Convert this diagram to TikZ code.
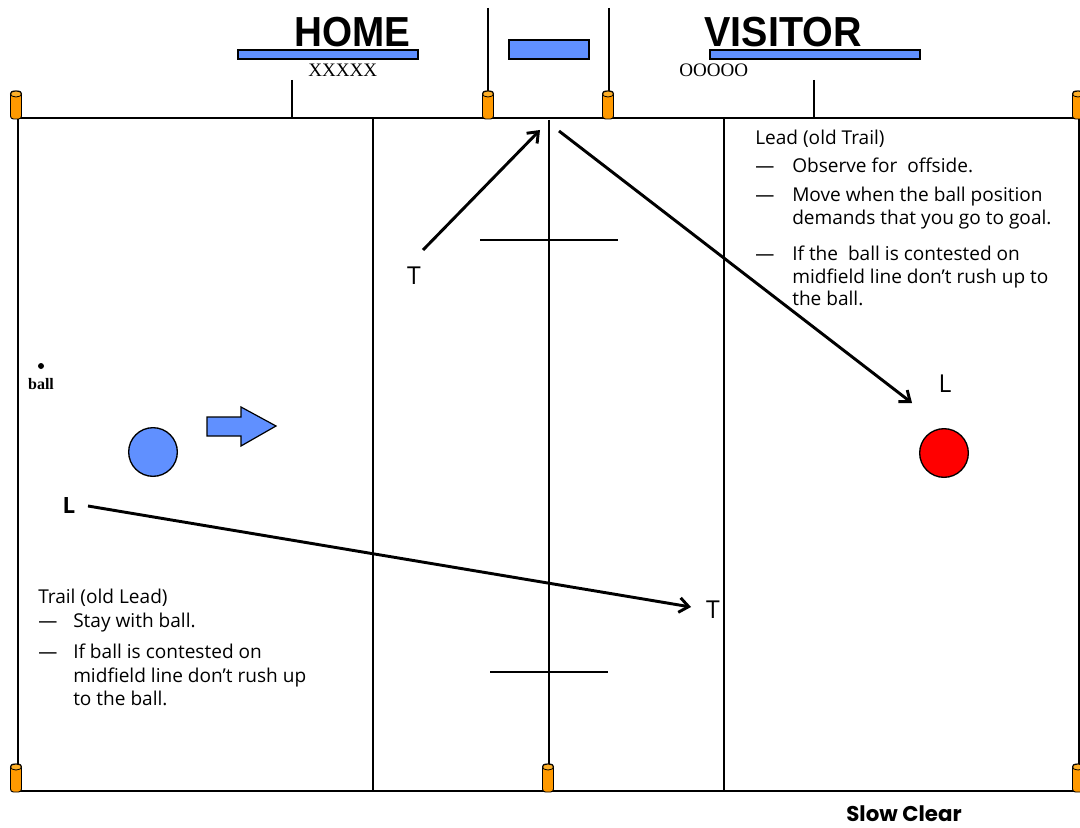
\documentclass[tikz,border=0pt]{standalone}
\usepackage{fontspec}
\setmainfont{Open Sans}
\newfontfamily\arialfont{Liberation Sans}
\newfontfamily\timesfont{Liberation Serif}
\newfontfamily\clearfont{Poppins}
\usetikzlibrary{arrows.meta}
\definecolor{teamblue}{RGB}{96,144,255}
\definecolor{pylonorange}{RGB}{255,153,0}
\definecolor{pylontop}{RGB}{255,176,40}
\tikzset{
  fieldline/.style={line width=1.1pt, draw=black},
  thinline/.style={line width=0.9pt, draw=black},
  bar/.style={fill=teamblue, draw=black, line width=1pt},
  move/.style={line width=2.2pt, -{Straight Barb[length=7pt,width=11pt]}},
  body/.style={anchor=base west, inner sep=0pt, font=\fontsize{14.3}{16}\selectfont},
  bigletter/.style={inner sep=0pt, font=\fontsize{18.5}{20}\selectfont},
  teamname/.style={anchor=base, inner sep=0pt, font=\arialfont\bfseries\fontsize{31.5}{32}\selectfont},
  roster/.style={anchor=base west, inner sep=0pt, font=\timesfont\fontsize{14.3}{15}\selectfont},
  player/.style={circle, draw=black, line width=1pt, minimum size=36.5pt, inner sep=0pt},
  pylon/.pic={
    \draw[fill=pylonorange, line width=0.7pt, rounded corners=2.2] (-5.5,0) rectangle (5.5,-28);
    \draw[fill=pylontop, line width=0.6pt] (0,-25) ellipse [x radius=5.5, y radius=3];
  }
}
\begin{document}
\begin{tikzpicture}[x=0.75pt,y=-0.75pt]
\useasboundingbox[fill=white] (0,0) rectangle (1080,827);

% field
\draw[fieldline] (18,118) -- (1080,118);
\draw[fieldline] (18,791) -- (1080,791);
\draw[fieldline] (18,118) -- (18,791);
\draw[fieldline] (1079,118) -- (1079,791);
\draw[thinline] (373,118) -- (373,791);
\draw[thinline] (549,120) -- (549,791);
\draw[thinline] (724,118) -- (724,791);
% ticks
\draw[thinline] (292,80) -- (292,118);
\draw[thinline] (814,80) -- (814,118);
\draw[thinline] (488,8) -- (488,95);
\draw[thinline] (609,8) -- (609,95);
% crosshairs
\draw[thinline] (480,240) -- (618,240);
\draw[thinline] (490,672) -- (608,672);

% pylons
\pic at (16,119) {pylon};
\pic at (488,119) {pylon};
\pic at (608,119) {pylon};
\pic at (1078,119) {pylon};
\pic at (16,792) {pylon};
\pic at (548,792) {pylon};
\pic at (1078,792) {pylon};

% header
\node[teamname] (home) at (352.5,47) {\scalebox{0.92}[1]{HOME}};
\node[teamname] (visitor) at (783,47) {\scalebox{0.94}[1]{VISITOR}};
\draw[bar] (238,50) rectangle (418,59);
\draw[bar] (509,40) rectangle (589,59);
\draw[bar] (710,50) rectangle (920,59);
\node[roster] (xs) at (308,77) {XXXXX};
\node[roster] (os) at (679,77) {OOOOO};

% ball
\fill (41,366) circle [radius=3];
\node[anchor=base, inner sep=0pt, font=\timesfont\bfseries\fontsize{12}{13}\selectfont] (balllab) at (41,389) {ball};

% players
\node[player, fill=teamblue] (blue) at (153,452) {};
\node[player, fill=red] (red) at (944,453) {};
\draw[fill=teamblue, draw=black, line width=0.9pt] (207,417) -- (241,417) -- (241,407) -- (276,426) -- (241,446) -- (241,436) -- (207,436) -- cycle;

% labels
\node[bigletter] (t1) at (414,276) {T};
\node[bigletter] (l2) at (945,384) {L};
\node[bigletter] (t2) at (713,610) {T};
\node[inner sep=0pt, font=\bfseries\fontsize{16.8}{18}\selectfont] (l1) at (69,505) {L};

% movement arrows
\coordinate (t1start) at (423,250);
\coordinate (t1end) at (540,130);
\coordinate (l2start) at (559,131);
\coordinate (l2end) at (912,403);
\coordinate (l1start) at (88,506);
\coordinate (l1end) at (691,607);
\draw[move] (t1start) -- (t1end);
\draw[move] (l2start) -- (l2end);
\draw[move] (l1start) -- (l1end);

% Lead text
\node[body] (leadhead) at (755,145) {Lead (old Trail)};
\node[body] (ld1) at (755,173) {—};
\node[body] (lt1) at (792,173) {Observe for~ offside.};
\node[body] (ld2) at (755,202) {—};
\node[body] (lt2a) at (792,202) {Move when the ball position};
\node[body] (lt2b) at (792,224) {demands that you go to goal.};
\node[body] (ld3) at (755,260) {—};
\node[body] (lt3a) at (792,260) {If the~ ball is contested on};
\node[body] (lt3b) at (792,283) {midfield line don’t rush up to};
\node[body] (lt3c) at (792,305) {the ball.};

% Trail text
\node[body] (trailhead) at (38,603) {Trail (old Lead)};
\node[body] (td1) at (38,627) {—};
\node[body] (tt1) at (73,627) {Stay with ball.};
\node[body] (td2) at (38,658) {—};
\node[body] (tt2a) at (73,658) {If ball is contested on};
\node[body] (tt2b) at (73,682) {midfield line don’t rush up};
\node[body] (tt2c) at (73,705) {to the ball.};

% caption
\node[anchor=base, inner sep=0pt, text depth=0pt, font=\clearfont\bfseries\fontsize{16}{17}\selectfont] (caption) at (904,821) {Slow Clear};
\end{tikzpicture}
\end{document}
